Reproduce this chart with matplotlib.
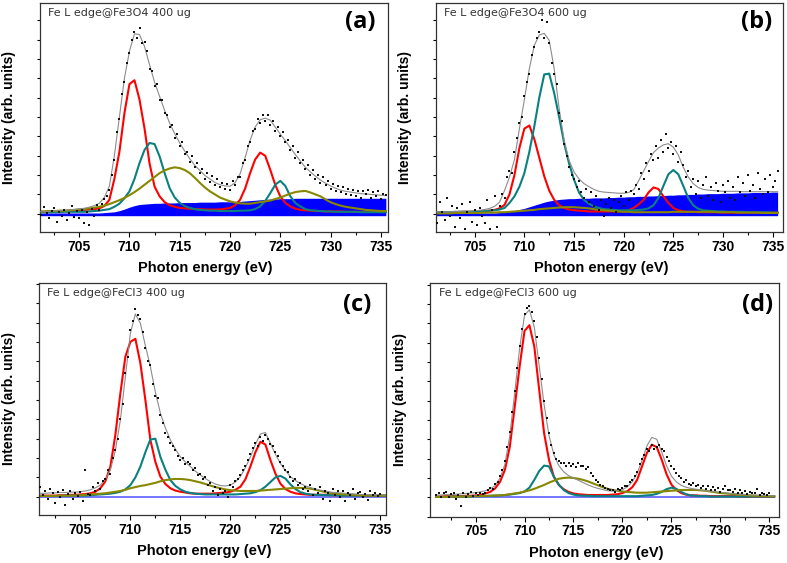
import numpy as np
import matplotlib
matplotlib.use('Agg')
from matplotlib import pyplot as plt
from matplotlib.ticker import MultipleLocator

plt.rcParams['font.family'] = ['Liberation Sans', 'DejaVu Sans']

# photon energy grids (eV): curves every 0.5 eV, measured points every 0.25 eV
energy = np.arange(701.0, 735.51, 0.5)
energy_dots = np.arange(701.0, 735.51, 0.25)

titles = ['Fe L edge@Fe3O4 400 ug', 'Fe L edge@Fe3O4 600 ug',
          'Fe L edge@FeCl3 400 ug', 'Fe L edge@FeCl3 600 ug']
tags = ['(a)', '(b)', '(c)', '(d)']

# ---- (a) Fe3O4 400 ug ----
fit_a = [0.05, 0.05, 0.06, 0.07, 0.08, 0.09, 0.10, 0.11, 0.13, 0.14,
         0.17, 0.21, 0.27, 0.42, 0.71, 1.50, 2.50, 3.50, 4.20, 4.65,
         4.63, 4.32, 3.85, 3.40, 3.03, 2.67, 2.34, 2.07, 1.83, 1.62,
         1.42, 1.25, 1.12, 0.99, 0.90, 0.81, 0.75, 0.72, 0.71, 0.80,
         1.03, 1.45, 1.90, 2.24, 2.43, 2.47, 2.42, 2.24, 2.06, 1.89,
         1.71, 1.53, 1.36, 1.20, 1.08, 0.97, 0.87, 0.79, 0.72, 0.66,
         0.61, 0.58, 0.56, 0.54, 0.52, 0.51, 0.50, 0.49, 0.48, 0.47]
red_a = [0.05, 0.05, 0.06, 0.06, 0.07, 0.07, 0.08, 0.08, 0.09, 0.10,
         0.11, 0.12, 0.14, 0.20, 0.36, 0.90, 1.60, 2.60, 3.35, 3.45,
         2.95, 2.20, 1.30, 0.70, 0.45, 0.30, 0.22, 0.18, 0.15, 0.14,
         0.13, 0.12, 0.12, 0.11, 0.11, 0.11, 0.11, 0.13, 0.15, 0.22,
         0.36, 0.65, 1.05, 1.40, 1.58, 1.50, 1.14, 0.75, 0.45, 0.28,
         0.19, 0.13, 0.10, 0.09, 0.08, 0.07, 0.07, 0.06, 0.06, 0.06,
         0.06, 0.05, 0.05, 0.05, 0.05, 0.05, 0.05, 0.05, 0.05, 0.05]
teal_a = [0.04, 0.04, 0.04, 0.04, 0.04, 0.05, 0.05, 0.05, 0.05, 0.05,
          0.06, 0.07, 0.08, 0.10, 0.12, 0.18, 0.26, 0.40, 0.58, 0.90,
          1.31, 1.65, 1.83, 1.80, 1.48, 1.05, 0.66, 0.42, 0.28, 0.20,
          0.15, 0.12, 0.10, 0.09, 0.08, 0.08, 0.07, 0.07, 0.07, 0.07,
          0.08, 0.08, 0.09, 0.12, 0.19, 0.33, 0.53, 0.75, 0.85, 0.72,
          0.45, 0.28, 0.19, 0.12, 0.09, 0.08, 0.07, 0.06, 0.06, 0.05,
          0.05, 0.05, 0.05, 0.05, 0.04, 0.04, 0.04, 0.04, 0.04, 0.04]
olive_a = [0.06, 0.06, 0.07, 0.07, 0.08, 0.08, 0.09, 0.10, 0.11, 0.12,
           0.14, 0.16, 0.18, 0.21, 0.25, 0.30, 0.35, 0.41, 0.48, 0.56,
           0.65, 0.75, 0.85, 0.95, 1.05, 1.12, 1.17, 1.20, 1.18, 1.13,
           1.05, 0.93, 0.80, 0.68, 0.58, 0.50, 0.42, 0.37, 0.32, 0.29,
           0.27, 0.26, 0.26, 0.28, 0.30, 0.32, 0.34, 0.38, 0.42, 0.47,
           0.52, 0.56, 0.58, 0.59, 0.55, 0.50, 0.45, 0.37, 0.30, 0.25,
           0.21, 0.18, 0.16, 0.14, 0.12, 0.10, 0.09, 0.08, 0.07, 0.07]
bg_a = [0.02, 0.02, 0.02, 0.02, 0.02, 0.02, 0.02, 0.02, 0.02, 0.02,
        0.02, 0.02, 0.02, 0.03, 0.04, 0.05, 0.08, 0.12, 0.17, 0.21,
        0.24, 0.25, 0.26, 0.27, 0.27, 0.28, 0.28, 0.28, 0.29, 0.29,
        0.29, 0.29, 0.30, 0.30, 0.30, 0.30, 0.31, 0.31, 0.31, 0.32,
        0.32, 0.33, 0.34, 0.35, 0.36, 0.37, 0.38, 0.38, 0.39, 0.39,
        0.39, 0.40, 0.40, 0.40, 0.40, 0.40, 0.40, 0.40, 0.40, 0.40,
        0.40, 0.40, 0.40, 0.40, 0.40, 0.40, 0.40, 0.40, 0.40, 0.40]
dots_a = [0.12, -0.02, 0.18, 0.03, -0.10, 0.08, 0.15, -0.20, 0.05, -0.05,
          0.10, -0.15, 0.02, 0.20, -0.08, 0.06, -0.12, 0.10, -0.25, 0.05,
          -0.28, 0.12, -0.05, 0.22, 0.10, 0.24, 0.38, 0.45, 0.62, 1.00,
          1.40, 2.10, 2.45, 3.10, 3.40, 3.90, 4.15, 4.50, 4.70, 4.55,
          4.80, 4.40, 4.45, 4.20, 3.75, 3.70, 3.30, 3.35, 2.95, 2.95,
          2.60, 2.55, 2.25, 2.30, 1.95, 2.05, 1.75, 1.85, 1.55, 1.60,
          1.35, 1.50, 1.20, 1.30, 1.05, 1.15, 0.90, 1.05, 0.82, 0.98,
          0.75, 0.90, 0.68, 0.80, 0.65, 0.78, 0.62, 0.85, 0.75, 0.95,
          0.95, 1.30, 1.40, 1.75, 1.85, 2.15, 2.20, 2.45, 2.35, 2.55,
          2.40, 2.55, 2.30, 2.40, 2.15, 2.25, 2.00, 2.10, 1.85, 1.90,
          1.65, 1.75, 1.45, 1.60, 1.30, 1.40, 1.15, 1.25, 1.00, 1.12,
          0.90, 1.00, 0.80, 0.95, 0.75, 0.85, 0.65, 0.78, 0.60, 0.72,
          0.55, 0.70, 0.50, 0.65, 0.48, 0.62, 0.45, 0.60, 0.42, 0.58,
          0.50, 0.62, 0.40, 0.55, 0.45, 0.60, 0.38, 0.52, 0.48]

# ---- (b) Fe3O4 600 ug ----
fit_b = [0.05, 0.05, 0.05, 0.05, 0.06, 0.06, 0.07, 0.07, 0.08, 0.09,
         0.11, 0.14, 0.19, 0.30, 0.60, 0.95, 1.40, 2.20, 2.95, 3.75,
         4.35, 4.62, 4.66, 4.48, 3.75, 2.72, 1.90, 1.38, 1.08, 0.90,
         0.78, 0.70, 0.63, 0.58, 0.56, 0.55, 0.54, 0.53, 0.53, 0.55,
         0.62, 0.85, 1.10, 1.35, 1.58, 1.70, 1.78, 1.81, 1.72, 1.52,
         1.20, 0.95, 0.78, 0.68, 0.63, 0.61, 0.60, 0.59, 0.58, 0.58,
         0.58, 0.58, 0.57, 0.57, 0.57, 0.57, 0.57, 0.57, 0.57, 0.57]
red_b = [0.03, 0.04, 0.04, 0.04, 0.04, 0.05, 0.05, 0.05, 0.05, 0.06,
         0.07, 0.08, 0.10, 0.14, 0.23, 0.50, 1.00, 1.70, 2.20, 2.28,
         1.93, 1.45, 0.97, 0.60, 0.36, 0.22, 0.15, 0.11, 0.09, 0.08,
         0.07, 0.06, 0.06, 0.06, 0.06, 0.06, 0.06, 0.06, 0.07, 0.09,
         0.15, 0.24, 0.36, 0.55, 0.68, 0.64, 0.45, 0.28, 0.15, 0.09,
         0.06, 0.05, 0.05, 0.04, 0.04, 0.04, 0.04, 0.04, 0.03, 0.03,
         0.03, 0.03, 0.03, 0.03, 0.03, 0.03, 0.03, 0.03, 0.03, 0.03]
teal_b = [0.04, 0.04, 0.04, 0.04, 0.05, 0.05, 0.05, 0.05, 0.06, 0.06,
          0.07, 0.08, 0.09, 0.11, 0.15, 0.28, 0.45, 0.70, 1.05, 1.60,
          2.26, 3.00, 3.60, 3.62, 3.12, 2.50, 1.83, 1.30, 0.88, 0.55,
          0.36, 0.26, 0.19, 0.15, 0.12, 0.11, 0.10, 0.09, 0.09, 0.09,
          0.09, 0.10, 0.11, 0.14, 0.22, 0.41, 0.72, 1.02, 1.13, 1.02,
          0.72, 0.41, 0.22, 0.13, 0.09, 0.08, 0.07, 0.06, 0.06, 0.05,
          0.05, 0.05, 0.05, 0.04, 0.04, 0.04, 0.04, 0.04, 0.03, 0.03]
olive_b = [0.01, 0.01, 0.01, 0.01, 0.02, 0.02, 0.02, 0.02, 0.02, 0.02,
           0.03, 0.03, 0.03, 0.04, 0.04, 0.05, 0.06, 0.07, 0.08, 0.09,
           0.10, 0.12, 0.13, 0.14, 0.15, 0.16, 0.17, 0.17, 0.17, 0.16,
           0.15, 0.14, 0.12, 0.10, 0.09, 0.08, 0.07, 0.06, 0.05, 0.05,
           0.04, 0.04, 0.04, 0.04, 0.04, 0.04, 0.04, 0.04, 0.05, 0.05,
           0.05, 0.05, 0.05, 0.05, 0.05, 0.05, 0.05, 0.04, 0.04, 0.04,
           0.04, 0.03, 0.03, 0.03, 0.03, 0.03, 0.02, 0.02, 0.02, 0.02]
bg_b = [0.02, 0.02, 0.02, 0.02, 0.02, 0.02, 0.02, 0.02, 0.02, 0.02,
        0.02, 0.02, 0.02, 0.03, 0.04, 0.06, 0.08, 0.11, 0.14, 0.18,
        0.22, 0.26, 0.30, 0.33, 0.35, 0.37, 0.38, 0.39, 0.39, 0.40,
        0.40, 0.40, 0.41, 0.41, 0.41, 0.42, 0.42, 0.43, 0.43, 0.44,
        0.44, 0.45, 0.45, 0.46, 0.46, 0.47, 0.47, 0.48, 0.48, 0.49,
        0.49, 0.50, 0.50, 0.51, 0.51, 0.52, 0.52, 0.52, 0.53, 0.53,
        0.53, 0.54, 0.54, 0.54, 0.55, 0.55, 0.55, 0.55, 0.56, 0.56]
dots_b = [0.10, -0.25, 0.30, 0.05, -0.15, 0.40, -0.05, 0.20, -0.35, 0.15,
          -0.10, 0.25, -0.40, 0.05, 0.30, -0.20, 0.10, -0.30, 0.15, -0.05,
          -0.25, 0.35, -0.40, 0.10, 0.45, -0.35, 0.20, 0.50, 0.40, 0.95,
          1.10, 1.05, 1.60, 1.95, 2.35, 2.50, 3.05, 3.40, 3.60, 4.10,
          4.30, 4.55, 4.70, 5.00, 4.55, 4.95, 4.40, 3.90, 3.60, 3.35,
          2.60, 2.40, 1.80, 1.50, 1.20, 1.00, 0.90, 0.70, 0.85, 0.55,
          0.40, 0.65, 0.30, 0.55, 0.20, 0.45, 0.10, 0.35, -0.05, 0.25,
          0.40, 0.15, 0.35, 0.05, 0.30, 0.45, 0.20, 0.55, 0.35, 0.60,
          0.50, 0.75, 0.65, 1.05, 0.90, 1.30, 1.10, 1.55, 1.40, 1.75,
          1.45, 1.90, 1.60, 2.05, 1.70, 1.85, 1.55, 1.75, 1.35, 1.60,
          1.25, 0.95, 1.10, 0.70, 0.90, 0.50, 0.85, 0.40, 0.75, 0.95,
          0.45, 0.70, 0.35, 0.80, 0.60, 0.30, 0.75, 0.55, 0.85, 0.40,
          0.70, 0.35, 0.95, 0.55, 0.80, 0.45, 1.00, 0.60, 0.75, 0.40,
          1.05, 0.65, 0.50, 0.90, 0.55, 1.00, 0.70, 0.85, 1.10]

# ---- (c) FeCl3 400 ug ----
fit_c = [0.09, 0.09, 0.10, 0.10, 0.11, 0.11, 0.12, 0.12, 0.13, 0.15,
         0.18, 0.23, 0.30, 0.45, 0.69, 1.20, 1.98, 3.10, 4.22, 4.72,
         4.48, 3.90, 3.36, 2.70, 2.16, 1.78, 1.47, 1.23, 1.03, 0.90,
         0.78, 0.66, 0.56, 0.47, 0.39, 0.33, 0.29, 0.28, 0.30, 0.38,
         0.52, 0.75, 1.03, 1.35, 1.62, 1.66, 1.38, 1.10, 0.86, 0.68,
         0.52, 0.42, 0.34, 0.28, 0.24, 0.20, 0.17, 0.15, 0.12, 0.11,
         0.10, 0.09, 0.08, 0.07, 0.06, 0.06, 0.05, 0.05, 0.05, 0.05]
red_c = [0.03, 0.03, 0.03, 0.03, 0.04, 0.04, 0.05, 0.05, 0.06, 0.07,
         0.09, 0.13, 0.22, 0.40, 0.78, 1.60, 2.67, 3.62, 4.00, 4.08,
         3.45, 2.50, 1.47, 0.90, 0.52, 0.33, 0.22, 0.16, 0.13, 0.11,
         0.09, 0.08, 0.08, 0.08, 0.08, 0.09, 0.10, 0.11, 0.13, 0.18,
         0.26, 0.45, 0.78, 1.15, 1.42, 1.35, 0.95, 0.60, 0.34, 0.20,
         0.13, 0.09, 0.07, 0.06, 0.05, 0.05, 0.05, 0.05, 0.04, 0.04,
         0.04, 0.04, 0.04, 0.04, 0.04, 0.03, 0.03, 0.03, 0.03, 0.03]
teal_c = [0.02, 0.02, 0.02, 0.02, 0.02, 0.03, 0.03, 0.03, 0.03, 0.03,
          0.04, 0.05, 0.06, 0.07, 0.08, 0.10, 0.13, 0.19, 0.30, 0.50,
          0.78, 1.15, 1.48, 1.50, 1.03, 0.70, 0.43, 0.28, 0.19, 0.13,
          0.10, 0.08, 0.07, 0.06, 0.06, 0.06, 0.06, 0.06, 0.06, 0.06,
          0.07, 0.08, 0.09, 0.12, 0.17, 0.26, 0.38, 0.50, 0.54, 0.47,
          0.32, 0.20, 0.12, 0.08, 0.06, 0.05, 0.05, 0.04, 0.04, 0.04,
          0.03, 0.03, 0.03, 0.03, 0.03, 0.03, 0.03, 0.03, 0.03, 0.03]
olive_c = [0.02, 0.02, 0.02, 0.02, 0.03, 0.03, 0.03, 0.03, 0.04, 0.05,
           0.06, 0.07, 0.08, 0.09, 0.11, 0.13, 0.15, 0.18, 0.22, 0.25,
           0.28, 0.30, 0.33, 0.36, 0.40, 0.43, 0.45, 0.46, 0.46, 0.45,
           0.43, 0.40, 0.37, 0.33, 0.29, 0.25, 0.22, 0.19, 0.17, 0.16,
           0.15, 0.15, 0.15, 0.15, 0.16, 0.17, 0.18, 0.19, 0.20, 0.21,
           0.22, 0.23, 0.23, 0.22, 0.21, 0.18, 0.15, 0.12, 0.10, 0.08,
           0.07, 0.06, 0.05, 0.05, 0.04, 0.04, 0.03, 0.03, 0.03, 0.03]
bg_c = [0.0] * 70
dots_c = [0.25, 0.05, 0.15, -0.05, 0.20, 0.10, -0.15, 0.12, 0.00, 0.18,
          -0.20, 0.08, 0.15, -0.05, 0.10, 0.02, 0.12, -0.10, 0.70, 0.08,
          0.05, 0.25, 0.15, 0.35, 0.20, 0.40, 0.45, 0.70, 0.60, 1.00,
          1.20, 1.50, 2.00, 2.40, 3.20, 3.60, 4.30, 4.55, 4.85, 4.70,
          4.60, 4.25, 3.85, 3.50, 3.40, 2.90, 2.60, 2.55, 2.10, 1.90,
          1.65, 1.55, 1.40, 1.30, 1.20, 1.05, 0.95, 1.00, 0.85, 0.90,
          0.85, 0.70, 0.75, 0.55, 0.60, 0.45, 0.50, 0.30, 0.35, 0.15,
          0.25, 0.05, 0.20, 0.10, 0.15, 0.00, 0.30, 0.25, 0.40, 0.45,
          0.55, 0.70, 0.80, 0.95, 1.10, 1.25, 1.40, 1.30, 1.55, 1.45,
          1.60, 1.50, 1.35, 1.30, 1.15, 1.05, 0.90, 0.80, 0.70, 0.65,
          0.50, 0.40, 0.45, 0.30, 0.35, 0.20, 0.25, 0.15, 0.30, 0.05,
          0.20, 0.10, 0.25, -0.05, 0.15, 0.10, -0.10, 0.20, 0.05, 0.15,
          0.00, 0.15, -0.10, 0.10, 0.05, 0.20, -0.05, 0.10, 0.12, 0.00,
          0.08, -0.08, 0.15, 0.05, 0.10, 0.02, 0.08]

# ---- (d) FeCl3 600 ug ----
fit_d = [0.06, 0.06, 0.07, 0.07, 0.08, 0.09, 0.10, 0.11, 0.12, 0.14,
         0.17, 0.22, 0.30, 0.50, 0.85, 1.60, 2.70, 3.85, 4.70, 4.85,
         4.40, 3.40, 2.40, 1.60, 1.10, 0.82, 0.66, 0.56, 0.50, 0.44,
         0.38, 0.32, 0.27, 0.23, 0.20, 0.17, 0.16, 0.17, 0.20, 0.27,
         0.40, 0.62, 0.95, 1.33, 1.55, 1.50, 1.18, 0.82, 0.55, 0.40,
         0.31, 0.26, 0.23, 0.21, 0.19, 0.17, 0.16, 0.14, 0.13, 0.12,
         0.10, 0.09, 0.08, 0.07, 0.06, 0.06, 0.05, 0.05, 0.04, 0.04]
red_d = [0.02, 0.02, 0.03, 0.03, 0.03, 0.03, 0.04, 0.04, 0.05, 0.06,
         0.10, 0.14, 0.23, 0.40, 0.71, 1.31, 2.34, 3.38, 4.30, 4.45,
         3.90, 2.78, 1.66, 0.97, 0.53, 0.32, 0.21, 0.14, 0.10, 0.08,
         0.07, 0.06, 0.06, 0.06, 0.06, 0.06, 0.07, 0.08, 0.11, 0.16,
         0.26, 0.45, 0.80, 1.15, 1.36, 1.30, 0.98, 0.60, 0.33, 0.19,
         0.11, 0.07, 0.05, 0.05, 0.04, 0.04, 0.03, 0.03, 0.03, 0.03,
         0.03, 0.03, 0.02, 0.02, 0.02, 0.02, 0.02, 0.02, 0.02, 0.02]
teal_d = [0.01, 0.01, 0.01, 0.02, 0.02, 0.02, 0.02, 0.02, 0.03, 0.03,
          0.03, 0.04, 0.04, 0.05, 0.06, 0.07, 0.09, 0.11, 0.15, 0.25,
          0.45, 0.68, 0.82, 0.80, 0.53, 0.33, 0.19, 0.11, 0.07, 0.05,
          0.04, 0.04, 0.03, 0.03, 0.03, 0.03, 0.03, 0.03, 0.03, 0.03,
          0.03, 0.03, 0.04, 0.05, 0.06, 0.09, 0.14, 0.21, 0.25, 0.22,
          0.14, 0.08, 0.05, 0.04, 0.03, 0.03, 0.02, 0.02, 0.02, 0.02,
          0.02, 0.02, 0.02, 0.02, 0.02, 0.02, 0.02, 0.02, 0.02, 0.02]
olive_d = [0.01, 0.01, 0.01, 0.02, 0.02, 0.02, 0.02, 0.02, 0.03, 0.03,
           0.04, 0.04, 0.05, 0.05, 0.06, 0.08, 0.10, 0.12, 0.15, 0.18,
           0.22, 0.27, 0.32, 0.38, 0.43, 0.48, 0.50, 0.51, 0.50, 0.48,
           0.45, 0.41, 0.36, 0.31, 0.26, 0.22, 0.19, 0.17, 0.15, 0.14,
           0.13, 0.12, 0.12, 0.12, 0.13, 0.14, 0.15, 0.16, 0.17, 0.18,
           0.19, 0.19, 0.19, 0.19, 0.18, 0.17, 0.15, 0.13, 0.11, 0.10,
           0.09, 0.08, 0.07, 0.06, 0.05, 0.04, 0.04, 0.03, 0.03, 0.03]
bg_d = [0.0] * 70
dots_d = [0.05, 0.12, 0.02, 0.10, 0.15, 0.00, 0.08, 0.12, -0.05, 0.05,
          -0.22, 0.10, 0.02, 0.08, 0.14, 0.04, 0.10, 0.06, 0.12, 0.08,
          0.12, 0.20, 0.25, 0.22, 0.35, 0.40, 0.55, 0.70, 0.95, 1.30,
          1.70, 2.20, 2.75, 3.35, 3.90, 4.35, 4.75, 4.90, 4.95, 4.80,
          4.55, 4.15, 3.60, 3.05, 2.50, 2.05, 1.65, 1.35, 1.15, 1.00,
          0.95, 0.90, 0.88, 0.82, 0.90, 0.80, 0.85, 0.78, 0.88, 0.80,
          0.82, 0.72, 0.78, 0.62, 0.55, 0.45, 0.40, 0.32, 0.30, 0.25,
          0.22, 0.18, 0.20, 0.15, 0.22, 0.18, 0.25, 0.30, 0.28, 0.40,
          0.45, 0.55, 0.65, 0.85, 1.00, 1.10, 1.25, 1.20, 1.35, 1.25,
          1.30, 1.35, 1.25, 1.20, 1.05, 0.95, 0.80, 0.72, 0.62, 0.55,
          0.50, 0.40, 0.45, 0.35, 0.32, 0.38, 0.28, 0.32, 0.25, 0.30,
          0.22, 0.28, 0.20, 0.26, 0.18, 0.25, 0.15, 0.22, 0.28, 0.18,
          0.20, 0.15, 0.22, 0.12, 0.18, 0.10, 0.16, 0.08, 0.14, 0.10,
          0.12, 0.22, 0.06, 0.12, 0.08, 0.05, 0.10]

# axes boxes [left, bottom, width, height], x and y limits per panel
boxes = [[0.0508, 0.588, 0.442, 0.407], [0.554, 0.588, 0.441, 0.407],
         [0.050, 0.0853, 0.441, 0.412], [0.547, 0.0823, 0.443, 0.415]]
xlims = [(701.1, 735.7), (701.1, 736.05), (700.9, 735.6), (700.4, 736.0)]
ylims = [(-0.47, 5.45), (-0.47, 5.45), (-0.47, 5.52), (-0.50, 5.54)]
tag_pos = [(0.92, 0.915), (0.925, 0.915), (0.917, 0.905), (0.937, 0.906)]

panels = [
    (fit_a, red_a, teal_a, olive_a, bg_a, dots_a, True),
    (fit_b, red_b, teal_b, olive_b, bg_b, dots_b, True),
    (fit_c, red_c, teal_c, olive_c, bg_c, dots_c, False),
    (fit_d, red_d, teal_d, olive_d, bg_d, dots_d, False),
]


def draw_panel(ax, data, i):
    fit, red, teal, olive, bg, dots, filled = data
    if filled:
        ax.fill_between(energy, -0.05, bg, color='#0000ff', lw=0, zorder=1)
    else:
        ax.plot(energy, bg, color='#6a6aff', lw=1.3, zorder=1)
    ax.plot(energy, red, color='#ff0000', lw=1.5, zorder=2)
    ax.plot(energy, teal, color='#0b8080', lw=1.5, zorder=2)
    ax.plot(energy, olive, color='#878700', lw=1.5, zorder=2)
    ax.plot(energy, fit, color='#8c8c8c', lw=0.8, zorder=3)
    ax.plot(energy_dots[:len(dots)], dots, ls='none', marker='s',
            ms=1.9, color='#111111', mew=0, zorder=4)

    ax.set_xlim(*xlims[i])
    ax.set_ylim(*ylims[i])
    ax.xaxis.set_major_locator(MultipleLocator(5))
    ax.xaxis.set_minor_locator(MultipleLocator(2.5))
    ax.yaxis.set_major_locator(MultipleLocator(1))
    ax.yaxis.set_minor_locator(MultipleLocator(0.5))
    ax.tick_params(axis='x', which='major', direction='out', length=3.5,
                   width=0.8, pad=2, labelsize=10)
    ax.tick_params(axis='x', which='minor', direction='out', length=2.2, width=0.8)
    ax.tick_params(axis='y', which='both', direction='out', length=2.2,
                   width=0.8, labelleft=False)
    for lab in ax.get_xticklabels():
        lab.set_fontweight('bold')
    for sp in ax.spines.values():
        sp.set_linewidth(0.9)
        sp.set_color('#333333')

    ax.set_xlabel('Photon energy (eV)', fontsize=10.5, fontweight='bold')
    ax.xaxis.set_label_coords(0.475, -0.125)
    ax.set_ylabel('Intensity (arb. units)', fontsize=10, fontweight='bold')
    ax.yaxis.set_label_coords(-0.068, 0.5)

    ax.text(0.023, 0.956, titles[i], transform=ax.transAxes, fontsize=8,
            family='DejaVu Sans', color='#333333', va='center', ha='left')
    tx, ty = tag_pos[i]
    ax.text(tx, ty, tags[i], transform=ax.transAxes, fontsize=17,
            fontweight='bold', family='Open Sans', ha='center', va='center')


fig = plt.figure(figsize=(7.87, 5.63), dpi=100)
for i, data in enumerate(panels):
    ax = fig.add_axes(boxes[i])
    draw_panel(ax, data, i)

fig.savefig('out.png', dpi=100)
